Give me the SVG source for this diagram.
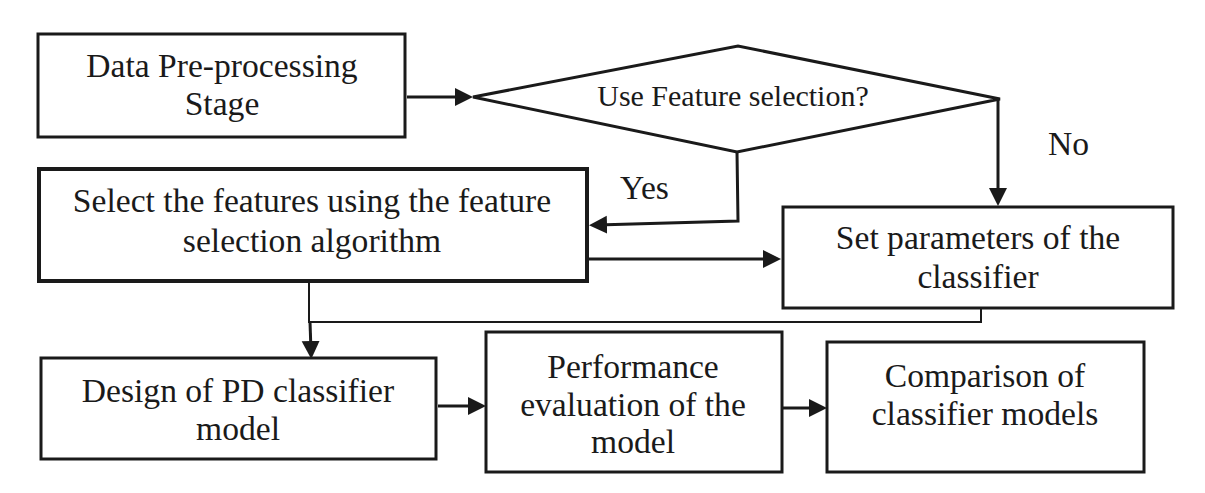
<svg xmlns="http://www.w3.org/2000/svg" width="1205" height="493" viewBox="0 0 1205 493">
<style>
  .box { fill: #ffffff; stroke: #1a1a1a; stroke-width: 3; }
  .thick { stroke-width: 4; }
  .lbl { font-family: "Liberation Serif", "Times New Roman", serif; font-size: 33.6px; fill: #1a1a1a; text-anchor: middle; }
  .q { font-size: 30px; }
  .side { text-anchor: start; }
  .conn { fill: none; stroke: #1a1a1a; stroke-width: 3; }
  .thin { stroke-width: 2; }
</style>
<defs>
  <marker id="arr" viewBox="0 0 18 20" markerWidth="18" markerHeight="20" refX="10" refY="10" orient="auto" markerUnits="userSpaceOnUse">
    <path d="M0,1 L18,10 L0,19 Z" fill="#1a1a1a"/>
  </marker>
</defs>
<rect width="1205" height="493" fill="#ffffff"/>

<g id="connectors">
  <line class="conn" x1="407" y1="97" x2="465" y2="97" marker-end="url(#arr)"/>
  <line class="conn" x1="998" y1="99" x2="998" y2="198" marker-end="url(#arr)"/>
  <polyline class="conn" points="737,152 738,221 597,225" marker-end="url(#arr)"/>
  <line class="conn" x1="589" y1="259" x2="773" y2="259" marker-end="url(#arr)"/>
  <polyline class="conn thin" points="309,282 309,322 981,322 981,308"/>
  <line class="conn" x1="310" y1="322" x2="311" y2="351" marker-end="url(#arr)"/>
  <line class="conn" x1="438" y1="406" x2="478" y2="406" marker-end="url(#arr)"/>
  <line class="conn" x1="782" y1="408" x2="819" y2="408" marker-end="url(#arr)"/>
</g>

<g id="preprocess">
  <rect class="box" x="38" y="34" width="367" height="103"/>
  <text class="lbl" x="222" y="77">Data Pre-processing</text>
  <text class="lbl" x="222" y="115">Stage</text>
</g>

<g id="decision">
  <polygon class="box" points="473,97 738,46 1000,99 737,152"/>
  <text class="lbl q" x="733" y="106">Use Feature selection?</text>
</g>

<g id="label-no">
  <text class="lbl side" x="1048" y="155">No</text>
</g>

<g id="label-yes">
  <text class="lbl side" x="620" y="199">Yes</text>
</g>

<g id="select-features">
  <rect class="box thick" x="39" y="169" width="548" height="112"/>
  <text class="lbl" x="312" y="212">Select the features using the feature</text>
  <text class="lbl" x="312" y="252">selection algorithm</text>
</g>

<g id="set-params">
  <rect class="box" x="783" y="207" width="390" height="101"/>
  <text class="lbl" x="978" y="249">Set parameters of the</text>
  <text class="lbl" x="978" y="288">classifier</text>
</g>

<g id="design">
  <rect class="box" x="41" y="358" width="395" height="101"/>
  <text class="lbl" x="238" y="402">Design of PD classifier</text>
  <text class="lbl" x="238" y="440">model</text>
</g>

<g id="performance">
  <rect class="box" x="486" y="332" width="296" height="140"/>
  <text class="lbl" x="633" y="378">Performance</text>
  <text class="lbl" x="633" y="416">evaluation of the</text>
  <text class="lbl" x="633" y="453">model</text>
</g>

<g id="comparison">
  <rect class="box" x="827" y="342" width="317" height="130"/>
  <text class="lbl" x="985" y="387">Comparison of</text>
  <text class="lbl" x="985" y="425">classifier models</text>
</g>
</svg>
